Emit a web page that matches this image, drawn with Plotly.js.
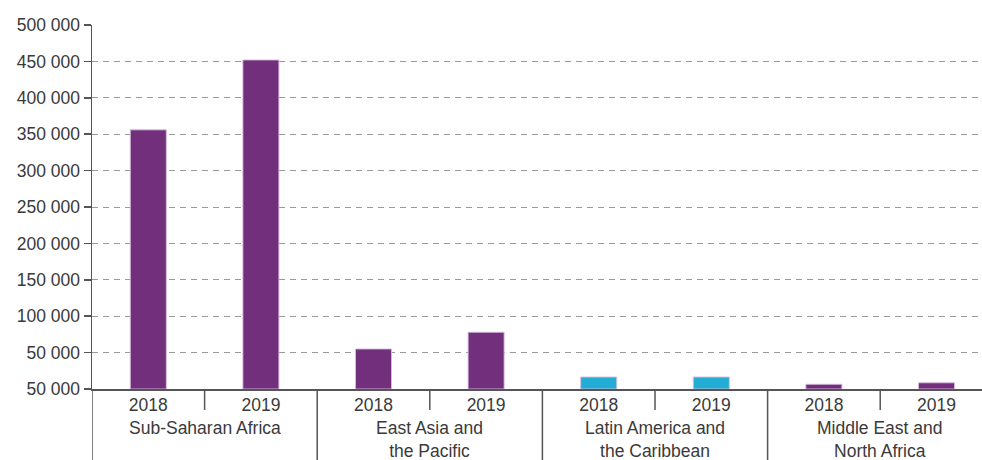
<!DOCTYPE html>
<html>
<head>
<meta charset="utf-8">
<script src="https://cdn.plot.ly/plotly-3.0.1.min.js"></script>
<style>
html,body{margin:0;padding:0;background:#fff;}
#chart{width:982px;height:460px;}
</style>
</head>
<body>
<div id="chart"></div>
<script>
const regions = ["Sub-Saharan Africa", "East Asia and<br>the Pacific", "Latin America and<br>the Caribbean", "Middle East and<br>North Africa"];
const years = ["2018", "2019", "2018", "2019", "2018", "2019", "2018", "2019"];
const values = [356000, 452000, 55000, 78000, 16500, 16500, 6500, 8500];
const barColors = ["#722f7c", "#722f7c", "#722f7c", "#722f7c", "#22aed4", "#22aed4", "#722f7c", "#722f7c"];
const yTickVals = [0, 50000, 100000, 150000, 200000, 250000, 300000, 350000, 400000, 450000, 500000];
const yTickLabels = ["50 000", "50 000", "100 000", "150 000", "200 000", "250 000", "300 000", "350 000", "400 000", "450 000", "500 000"];

const FONT = "'Liberation Sans', Arial, sans-serif";
const TXT = "#3a3a3a";
const LINE = "#555";

const idx = years.map((_, i) => i);
const perRegion = years.length / regions.length;

const trace = {
  type: "bar",
  x: idx,
  y: values,
  width: 0.32,
  marker: {color: barColors, line: {color: "rgba(215,190,222,0.9)", width: 1}},
  hoverinfo: "y"
};

const shapes = [];
const annotations = [];
regions.forEach((r, k) => {
  const start = k * perRegion - 0.5;
  // region divider (left boundary of the group)
  shapes.push({type: "line", xref: "x", yref: "paper", ysizemode: "pixel", yanchor: 0,
    x0: start, x1: start, y0: 0, y1: -71, line: {color: LINE, width: 1.5}});
  // year divider inside the group
  shapes.push({type: "line", xref: "x", yref: "paper", ysizemode: "pixel", yanchor: 0,
    x0: start + perRegion / 2, x1: start + perRegion / 2, y0: 0, y1: -21, line: {color: LINE, width: 1.5}});
  annotations.push({xref: "x", yref: "paper", x: start + perRegion / 2, y: 0,
    yanchor: "top", yshift: -27, showarrow: false, text: r, align: "center",
    font: {family: FONT, size: 17.5, color: TXT}});
});

const layout = {
  width: 982, height: 460,
  margin: {l: 92, r: 0, t: 25, b: 71},
  paper_bgcolor: "#fff", plot_bgcolor: "#fff",
  font: {family: FONT, size: 17.5, color: TXT},
  showlegend: false,
  xaxis: {
    range: [-0.5, 7.404],
    tickmode: "array", tickvals: idx, ticktext: years,
    showline: true, linecolor: LINE, linewidth: 1.5,
    ticks: "", ticklabelstandoff: -1,
    showgrid: false, zeroline: false,
    tickfont: {family: FONT, size: 17.5, color: TXT}
  },
  yaxis: {
    range: [0, 500000],
    tickmode: "array", tickvals: yTickVals, ticktext: yTickLabels,
    showline: true, linecolor: LINE, linewidth: 1.5,
    ticks: "outside", ticklen: 7, tickwidth: 1.5, tickcolor: LINE,
    showgrid: true, gridcolor: "#9a9a9a", griddash: "6px,5px", gridwidth: 1,
    zeroline: false,
    tickfont: {family: FONT, size: 17.5, color: TXT}
  },
  shapes: shapes,
  annotations: annotations
};

Plotly.newPlot("chart", [trace], layout, {displayModeBar: false, staticPlot: true});
</script>
</body>
</html>
